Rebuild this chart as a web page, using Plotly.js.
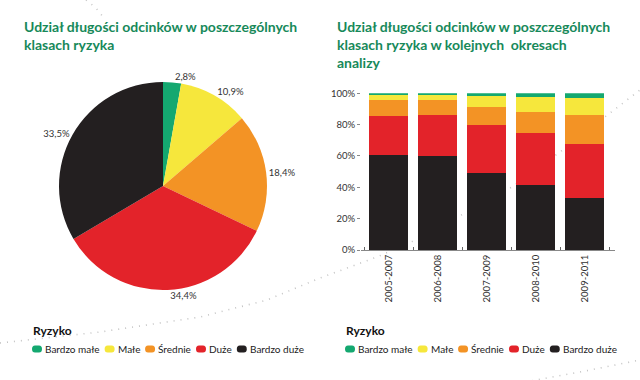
<!DOCTYPE html>
<html>
<head>
<meta charset="utf-8">
<script src="https://cdn.plot.ly/plotly-3.0.1.min.js"></script>
<style>html,body{margin:0;padding:0;background:#fff;}#chart{width:640px;height:380px;}</style>
</head>
<body>
<div id="chart"></div>
<script>
// ---- data ----
const categories = ['Bardzo małe', 'Małe', 'Średnie', 'Duże', 'Bardzo duże'];
const colors = ['#14a870', '#f6e73c', '#f39325', '#e3232a', '#231f20'];
const pieValues = [2.8, 10.9, 18.4, 34.4, 33.5];
const periods = ['2005-2007', '2006-2008', '2007-2009', '2008-2010', '2009-2011'];
const veryLow = [1.1, 1.1, 1.5, 2.4, 3.2];
const low = [3.0, 3.2, 7.0, 9.3, 10.6];
const medium = [10.2, 9.6, 11.9, 13.4, 18.3];
const high = [25.2, 26.3, 30.3, 33.2, 34.5];
const veryHigh = [60.5, 59.8, 49.3, 41.7, 33.4];
const yTicks = [0, 20, 40, 60, 80, 100];
const titleLeft = 'Udział długości odcinków w poszczególnych<br>klasach ryzyka';
const titleRight = 'Udział długości odcinków w poszczególnych<br>klasach ryzyka w kolejnych  okresach<br>analizy';
const legendTitle = 'Ryzyko';

// ---- layout helpers ----
const W = 640, H = 380;
const FONT = 'Lato, Roboto, sans-serif';
const px = x => x / W;
const py = y => 1 - y / H;

const seriesByCat = [veryLow, low, medium, high, veryHigh];

const traces = [];
traces.push({
  type: 'pie',
  values: pieValues,
  labels: categories,
  marker: {colors: colors, line: {width: 0}},
  sort: false,
  direction: 'clockwise',
  rotation: 0,
  text: pieValues.map(v => v.toFixed(1).replace('.', ',') + '%'),
  textinfo: 'text',
  textposition: 'outside',
  outsidetextfont: {family: FONT, size: 9.5, color: '#333'},
  domain: {x: [px(59), px(267)], y: [py(290), py(82)]},
  hoverinfo: 'label+percent',
  showlegend: false
});
// stacked bars: bottom = Bardzo duże
for (let i = categories.length - 1; i >= 0; i--) {
  traces.push({
    type: 'bar',
    name: categories[i],
    x: periods,
    y: seriesByCat[i],
    marker: {color: colors[i], line: {width: 0}},
    xaxis: 'x', yaxis: 'y',
    showlegend: false
  });
}

// measure text for custom legends
const LEG_SIZE = 10;
const ctx = document.createElement('canvas').getContext('2d');
ctx.font = LEG_SIZE + 'px ' + FONT;
function tw(s) { return ctx.measureText(s).width; }

const annotations = [];
const shapes = [];
const pill = 'M 3,-3.5 L 7,-3.5 Q 10,-3.5 10,0 Q 10,3.5 7,3.5 L 3,3.5 Q 0,3.5 0,0 Q 0,-3.5 3,-3.5 Z';

function addLegend(x0, yTitle, yItems) {
  annotations.push({
    xref: 'paper', yref: 'paper', x: px(x0 - 1), y: py(yTitle),
    xanchor: 'left', yanchor: 'middle', showarrow: false,
    text: '<b>' + legendTitle + '</b>',
    font: {family: FONT, size: 12, color: '#111'}
  });
  let x = x0;
  categories.forEach((c, i) => {
    shapes.push({
      type: 'path', xref: 'paper', yref: 'paper',
      xsizemode: 'pixel', ysizemode: 'pixel',
      xanchor: px(x), yanchor: py(yItems),
      path: pill,
      fillcolor: colors[i], line: {width: 0}
    });
    annotations.push({
      xref: 'paper', yref: 'paper', x: px(x + 12), y: py(yItems),
      xanchor: 'left', yanchor: 'middle', showarrow: false,
      text: c, font: {family: FONT, size: LEG_SIZE, color: '#222'},
      xshift: -1
    });
    x += 12 + tw(c) + 6;
  });
}
addLegend(32, 330, 349);
addLegend(345, 330, 349);

annotations.push({
  xref: 'paper', yref: 'paper', x: px(22), y: py(16),
  xanchor: 'left', yanchor: 'top', align: 'left', showarrow: false,
  text: '<b>' + titleLeft + '</b>',
  font: {family: FONT, size: 14, color: '#17895a'}
});
annotations.push({
  xref: 'paper', yref: 'paper', x: px(335), y: py(16),
  xanchor: 'left', yanchor: 'top', align: 'left', showarrow: false,
  text: '<b>' + titleRight + '</b>',
  font: {family: FONT, size: 14, color: '#17895a'}
});

// decorative dotted curves
function dotted(points) {
  const d = points.map((p, i) => (i ? 'L ' : 'M ') + px(p[0]) + ',' + py(p[1])).join(' ');
  shapes.push({type: 'path', xref: 'paper', yref: 'paper', layer: 'below', path: d,
    line: {color: '#c4c4c4', width: 1.6, dash: '1px,6px'}});
}
dotted([[0,343],[100,332],[200,317],[267,300],[320,278],[377,257],[420,238],[465,213],[512,187],[560,152],[610,113],[640,90]]);
dotted([[525,382],[580,372],[640,360]]);
dotted([[86,0],[96,8],[104,18]]);

const layout = {
  width: W, height: H,
  margin: {l: 0, r: 0, t: 0, b: 0},
  paper_bgcolor: '#fff', plot_bgcolor: 'rgba(0,0,0,0)',
  showlegend: false,
  barmode: 'stack',
  bargap: 0.2,
  font: {family: FONT, color: '#333'},
  xaxis: {
    domain: [px(361), px(615)],
    range: [-0.57, 4.62],
    automargin: false,
    tickangle: -90,
    tickfont: {family: FONT, size: 9.5, color: '#333'},
    showline: true, linecolor: '#888', linewidth: 1,
    ticks: 'inside', tickson: 'boundaries', ticklen: 3, tickcolor: '#666',
    showgrid: false, zeroline: false,
    fixedrange: true
  },
  yaxis: {
    domain: [py(250), py(93.3)],
    range: [0, 100],
    automargin: false,
    tickvals: yTicks,
    ticktext: yTicks.map(v => v + '%'),
    tickfont: {family: FONT, size: 9.5, color: '#333'},
    ticks: 'outside', ticklen: 3, tickcolor: '#888',
    showline: false, showgrid: false, zeroline: false,
    fixedrange: true
  },
  annotations: annotations,
  shapes: shapes
};

Plotly.newPlot('chart', traces, layout, {displayModeBar: false, staticPlot: true});
</script>
</body>
</html>
